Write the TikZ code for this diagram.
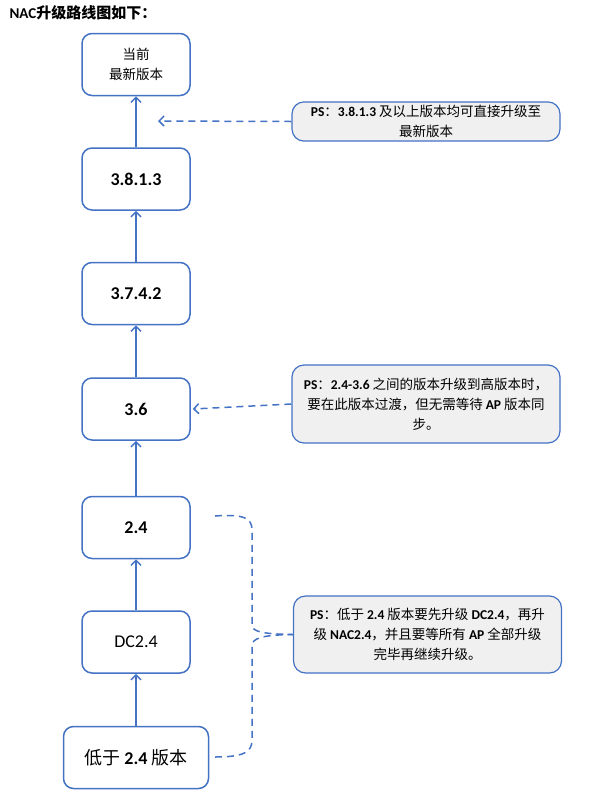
\documentclass[tikz,border=0pt]{standalone}
\usepackage{fontspec}
\setmainfont{Carlito}
\newfontfamily\cjk{Noto Sans CJK SC}
\usepackage{xcolor}
\usetikzlibrary{arrows.meta, positioning}

\definecolor{lineblue}{HTML}{4472C4}
\definecolor{notegray}{HTML}{F0F0F0}
\newcommand{\zh}[1]{{\cjk #1}}

\begin{document}
\begin{tikzpicture}[x=1pt, y=-1pt,
  box/.style={draw=lineblue, line width=1.5pt, rounded corners=10pt, fill=white,
              minimum width=108pt, minimum height=62pt, align=center,
              font=\fontsize{18}{20}\selectfont\bfseries},
  note/.style={draw=lineblue, line width=1.2pt, rounded corners=12pt, fill=notegray,
               minimum width=268pt, align=center,
               font=\fontsize{13.5}{20}\selectfont},
  arrow/.style={draw=lineblue, line width=1.5pt, -{Straight Barb[length=5pt, width=10pt]}},
  dasharrow/.style={draw=lineblue, line width=1.5pt, dash pattern=on 7pt off 5pt,
                    -{Straight Barb[length=5pt, width=10pt]}},
  dashline/.style={draw=lineblue, line width=1.5pt, dash pattern=on 7pt off 5pt},
  node distance=51pt
]
  \useasboundingbox (0,0) rectangle (593,796);

  % title
  \node[anchor=west, font=\fontsize{15}{18}\selectfont\bfseries] (title) at (6,13)
    {NAC\zh{升级路线图如下：}};

  % upgrade chain
  \node[box, font=\fontsize{13.5}{20}\selectfont] (cur) at (136,64.5) {\zh{当前}\\\zh{最新版本}};
  \node[box, below=of cur]   (v3813) {3.8.1.3};
  \node[box, below=of v3813] (v3742) {3.7.4.2};
  \node[box, below=52pt of v3742] (v36) {3.6};
  \node[box, below=55pt of v36]   (v24) {2.4};
  \node[box, below=of v24, font=\fontsize{18}{20}\selectfont] (dc24) {DC2.4};
  \node[box, below=52pt of dc24, minimum width=145pt,
        font=\fontsize{18}{20}\selectfont] (low) {\zh{低于} \textbf{2.4} \zh{版本}};

  \draw[arrow] (low)   -- (dc24);
  \draw[arrow] (dc24)  -- (v24);
  \draw[arrow] (v24)   -- (v36);
  \draw[arrow] (v36)   -- (v3742);
  \draw[arrow] (v3742) -- (v3813);
  \draw[arrow] (v3813) -- (cur);

  % notes
  \node[note] (note1) at (426,121.5)
    {\textbf{PS}\zh{：}\textbf{3.8.1.3} \zh{及以上版本均可直接升级至}\\\zh{最新版本}};
  \node[note, minimum height=78pt] (note2) at (426,404)
    {\textbf{PS}\zh{：}\textbf{2.4-3.6} \zh{之间的版本升级到高版本时，}\\
     \zh{要在此版本过渡，但无需等待} \textbf{AP} \zh{版本同}\\\zh{步。}};
  \node[note, minimum height=77pt] (note3) at (427.5,634.5)
    {\textbf{PS}\zh{：低于} \textbf{2.4} \zh{版本要先升级} \textbf{DC2.4}\zh{，再升}\\
     \zh{级} \textbf{NAC2.4}\zh{，并且要等所有} \textbf{AP} \zh{全部升级}\\
     \zh{完毕再继续升级。}};

  \coordinate (p1) at (158,121);
  \coordinate (b1) at (215,516);
  \coordinate (b2) at (215,757);

  \draw[dasharrow] (note1.west) -- (p1);
  \draw[dasharrow] (note2.west) -- ([xshift=2pt]v36.east);
  \draw[dashline] (b1) .. controls (244,514) and (252,518) .. (252,530) -- (252,625)
    .. controls (252,632) and (264,634) .. (note3.west);
  \draw[dashline] (b2) .. controls (244,757) and (252,752) .. (252,740) -- (252,646)
    .. controls (252,638) and (262,635) .. (note3.west);
\end{tikzpicture}
\end{document}
